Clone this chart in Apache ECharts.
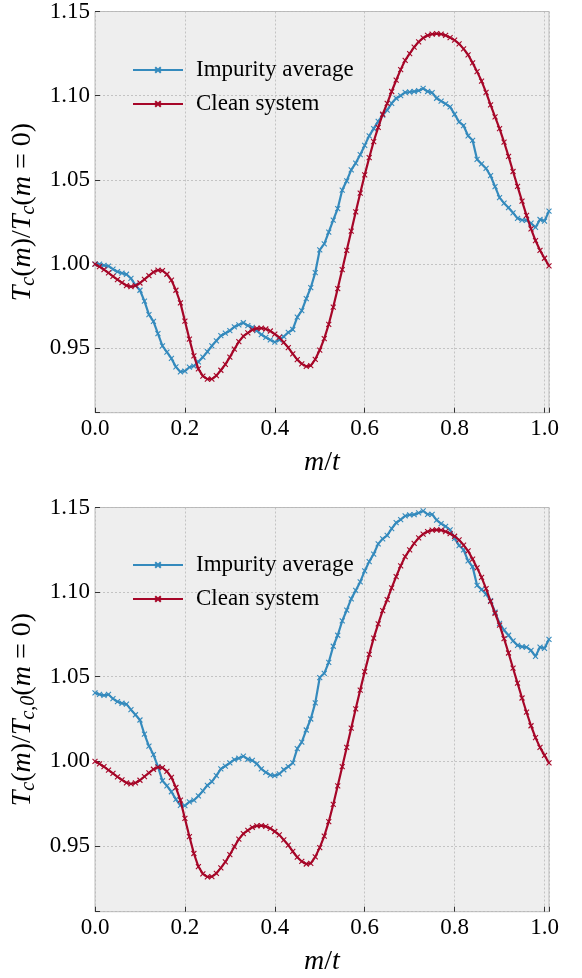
<!DOCTYPE html>
<html>
<head>
<meta charset="utf-8">
<script src="https://cdn.jsdelivr.net/npm/echarts@6/dist/echarts.min.js"></script>
<style>
html,body{margin:0;padding:0;background:#fff;}
#chart{width:582px;height:978px;}
</style>
</head>
<body>
<div id="chart"></div>
<script>
// ---- data ----
const mOverT = [0.00,0.01,0.02,0.03,0.04,0.05,0.06,0.07,0.08,0.09,
  0.10,0.11,0.12,0.13,0.14,0.15,0.16,0.17,0.18,0.19,
  0.20,0.21,0.22,0.23,0.24,0.25,0.26,0.27,0.28,0.29,
  0.30,0.31,0.32,0.33,0.34,0.35,0.36,0.37,0.38,0.39,
  0.40,0.41,0.42,0.43,0.44,0.45,0.46,0.47,0.48,0.49,
  0.50,0.51,0.52,0.53,0.54,0.55,0.56,0.57,0.58,0.59,
  0.60,0.61,0.62,0.63,0.64,0.65,0.66,0.67,0.68,0.69,
  0.70,0.71,0.72,0.73,0.74,0.75,0.76,0.77,0.78,0.79,
  0.80,0.81,0.82,0.83,0.84,0.85,0.86,0.87,0.88,0.89,
  0.90,0.91,0.92,0.93,0.94,0.95,0.96,0.97,0.98,0.99,
  1.00,1.01];

const cleanSystem = [1.0000,0.9985,0.9968,0.9948,0.9928,0.9908,0.9890,0.9873,0.9866,0.9872,
  0.9888,0.9910,0.9932,0.9953,0.9965,0.9962,0.9940,0.9905,0.9845,0.9770,
  0.9662,0.9555,0.9455,0.9378,0.9335,0.9317,0.9318,0.9338,0.9370,0.9405,
  0.9448,0.9495,0.9540,0.9572,0.9592,0.9610,0.9618,0.9620,0.9615,0.9603,
  0.9585,0.9565,0.9535,0.9505,0.9467,0.9433,0.9408,0.9393,0.9397,0.9435,
  0.9490,0.9558,0.9643,0.9745,0.9855,0.9968,1.0082,1.0196,1.0310,1.0421,
  1.0530,1.0632,1.0728,1.0812,1.0890,1.0955,1.1025,1.1092,1.1155,1.1210,
  1.1250,1.1288,1.1320,1.1343,1.1358,1.1366,1.1368,1.1366,1.1358,1.1345,
  1.1330,1.1308,1.1278,1.1243,1.1195,1.1143,1.1087,1.1020,1.0945,1.0875,
  1.0805,1.0725,1.0640,1.0550,1.0462,1.0374,1.0290,1.0210,1.0140,1.0082,
  1.0035,0.9990];

const impurityTop = [1.0000,1.0000,0.9993,0.9988,0.9970,0.9955,0.9947,0.9940,0.9915,0.9875,
  0.9845,0.9780,0.9700,0.9660,0.9587,0.9515,0.9478,0.9440,0.9390,0.9360,
  0.9365,0.9388,0.9395,0.9420,0.9448,0.9480,0.9515,0.9545,0.9575,0.9590,
  0.9605,0.9628,0.9640,0.9652,0.9635,0.9625,0.9605,0.9582,0.9565,0.9550,
  0.9537,0.9550,0.9570,0.9595,0.9612,0.9685,0.9724,0.9795,0.9860,0.9950,
  1.0085,1.0120,1.0190,1.0262,1.0330,1.0440,1.0495,1.0560,1.0600,1.0650,
  1.0705,1.0762,1.0805,1.0848,1.0885,1.0915,1.0955,1.0985,1.1000,1.1020,
  1.1022,1.1025,1.1030,1.1043,1.1025,1.1018,1.0985,1.0968,1.0952,1.0934,
  1.0890,1.0845,1.0822,1.0762,1.0735,1.0622,1.0595,1.0568,1.0525,1.0460,
  1.0395,1.0362,1.0335,1.0305,1.0272,1.0262,1.0260,1.0243,1.0218,1.0265,
  1.0256,1.0315];

const impurityBottom = [1.0405,1.0395,1.0390,1.0395,1.0370,1.0352,1.0343,1.0338,1.0305,1.0275,
  1.0244,1.0160,1.0090,1.0040,0.9968,0.9885,0.9855,0.9820,0.9775,0.9740,
  0.9738,0.9760,0.9770,0.9795,0.9825,0.9858,0.9880,0.9915,0.9955,0.9972,
  0.9990,1.0010,1.0018,1.0030,1.0012,1.0005,0.9985,0.9955,0.9935,0.9918,
  0.9915,0.9925,0.9950,0.9968,0.9990,1.0075,1.0113,1.0185,1.0250,1.0345,
  1.0495,1.0520,1.0585,1.0680,1.0745,1.0830,1.0893,1.0960,1.1010,1.1060,
  1.1125,1.1180,1.1225,1.1285,1.1315,1.1335,1.1375,1.1410,1.1428,1.1450,
  1.1456,1.1458,1.1468,1.1480,1.1460,1.1460,1.1425,1.1405,1.1388,1.1368,
  1.1318,1.1275,1.1250,1.1185,1.1150,1.1040,1.1015,1.0988,1.0950,1.0882,
  1.0815,1.0775,1.0745,1.0712,1.0685,1.0677,1.0675,1.0655,1.0620,1.0675,
  1.0668,1.0721];

const seriesNames = ['Impurity average', 'Clean system'];
const yTickValues = [0.95, 1.00, 1.05, 1.10, 1.15];
const xTickValues = [0.0, 0.2, 0.4, 0.6, 0.8, 1.0];

// ---- styling ----
const FONT = 'Liberation Serif';
const BLUE = '#348ABD';
const RED = '#A60628';
const xSym = 'path://M0,0L10,10M10,0L0,10';

function zip(xs, ys) { return xs.map((x, i) => [x, ys[i]]); }

function isTick(v, list) { return list.some(t => Math.abs(t - v) < 1e-6); }

const mathRich = {
  i: {fontFamily: FONT, fontStyle: 'italic', fontSize: 28, lineHeight: 33, color: '#000'},
  n: {fontFamily: FONT, fontSize: 28, lineHeight: 33, color: '#000'},
  s: {fontFamily: FONT, fontStyle: 'italic', fontSize: 20, lineHeight: 20, verticalAlign: 'bottom', color: '#000'}
};

function lineSeries(name, data, color, idx) {
  return {
    type: 'line', name: name, data: data,
    xAxisIndex: idx, yAxisIndex: idx,
    symbol: xSym, symbolSize: 5, showAllSymbol: true,
    lineStyle: {color: color, width: 2.2},
    itemStyle: {color: color, borderColor: color, borderWidth: 1.1},
    emphasis: {disabled: true},
    z: name === 'Clean system' ? 3 : 2
  };
}

function xAxisCfg(idx) {
  return {
    type: 'value', gridIndex: idx, min: 0, max: 1.01, interval: 0.2,
    axisLine: {show: false},
    axisTick: {show: true, inside: true, length: 5, lineStyle: {color: '#333', width: 1}},
    axisLabel: {
      margin: 5, fontFamily: FONT, fontSize: 23, color: '#000',
      formatter: v => isTick(v, xTickValues) ? v.toFixed(1) : ''
    },
    splitLine: {show: true, lineStyle: {color: '#b8b8b8', width: 0.8, type: [2, 2]}},
    name: '{i|m}{n|/}{i|t}', nameLocation: 'middle', nameGap: 33,
    nameTextStyle: {rich: mathRich}
  };
}

function yAxisCfg(idx, min, nameStr) {
  return {
    type: 'value', gridIndex: idx, min: min, max: 1.15,
    splitNumber: 5, minInterval: 0.05, maxInterval: 0.05,
    axisLine: {show: false},
    axisTick: {show: true, inside: true, length: 5, lineStyle: {color: '#333', width: 1}},
    axisLabel: {
      margin: 5, fontFamily: FONT, fontSize: 23, color: '#000',
      formatter: v => isTick(v, yTickValues) ? v.toFixed(2) : ''
    },
    splitLine: {show: true, lineStyle: {color: '#b8b8b8', width: 0.8, type: [2, 2]}},
    name: nameStr, nameLocation: 'middle', nameRotate: 90, nameGap: 41,
    nameTextStyle: {rich: mathRich}
  };
}

function legendCfg(top) {
  return {
    orient: 'vertical', left: 127, top: top,
    itemWidth: 50, itemHeight: 7, itemGap: 10,
    data: seriesNames,
    textStyle: {fontFamily: FONT, fontSize: 23, lineHeight: 24, color: '#000', padding: [0, 0, 0, 8]},
    selectedMode: false
  };
}

const chart = echarts.init(document.getElementById('chart'), null, {renderer: 'canvas'});
chart.setOption({
  animation: false,
  backgroundColor: '#ffffff',
  grid: [
    {left: 95, right: 33, top: 9.4, height: 403.3, show: true, backgroundColor: '#eeeeee', borderColor: '#bcbcbc', borderWidth: 1},
    {left: 95, right: 33, top: 507.5, height: 404.2, show: true, backgroundColor: '#eeeeee', borderColor: '#bcbcbc', borderWidth: 1}
  ],
  legend: [legendCfg(53), legendCfg(548)],
  xAxis: [xAxisCfg(0), xAxisCfg(1)],
  yAxis: [
    yAxisCfg(0, 0.9118, '{i|T}{s|c}{n|(}{i|m}{n|)/}{i|T}{s|c}{n|(}{i|m}{n| = 0)}'),
    yAxisCfg(1, 0.9111, '{i|T}{s|c}{n|(}{i|m}{n|)/}{i|T}{s|c,0}{n|(}{i|m}{n| = 0)}')
  ],
  series: [
    lineSeries(seriesNames[0], zip(mOverT, impurityTop), BLUE, 0),
    lineSeries(seriesNames[1], zip(mOverT, cleanSystem), RED, 0),
    lineSeries(seriesNames[0], zip(mOverT, impurityBottom), BLUE, 1),
    lineSeries(seriesNames[1], zip(mOverT, cleanSystem), RED, 1)
  ]
});
</script>
</body>
</html>
